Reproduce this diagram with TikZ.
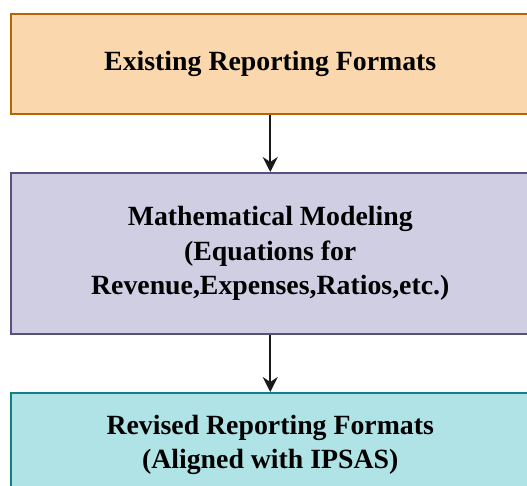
\documentclass[tikz,border=0pt]{standalone}
\usepackage{fontspec}
\setmainfont{Liberation Serif}
\usetikzlibrary{arrows.meta}
\definecolor{f1}{HTML}{FAD7AC}\definecolor{s1}{HTML}{B46504}
\definecolor{f2}{HTML}{D0CEE2}\definecolor{s2}{HTML}{56517E}
\definecolor{f3}{HTML}{B0E3E6}\definecolor{s3}{HTML}{0E8088}
\tikzset{
  box/.style={draw, line width=2pt, minimum width=519.5pt, inner sep=0pt,
    align=center, font=\fontsize{27.8}{34.5}\selectfont\bfseries},
  conn/.style={-{Stealth[length=15pt,width=15pt,inset=5pt]}, line width=2pt, draw=black!90}
}
\begin{document}
\begin{tikzpicture}[x=1pt,y=1pt]
\useasboundingbox (0,0) rectangle (527,485);
\clip (0,0) rectangle (527,485);
\node[box, fill=f1, draw=s1, minimum height=100pt] (a) at (270.25,421) {Existing Reporting Formats};
\node[box, fill=f2, draw=s2, minimum height=161pt] (b) at (270.25,231.5) {Mathematical Modeling\\(Equations for\\Revenue,Expenses,Ratios,etc.)};
\node[box, fill=f3, draw=s3, minimum height=104pt] (c) at (270.25,40) {Revised Reporting Formats\\(Aligned with IPSAS)};
\draw[conn] (a.south) -- (b.north);
\draw[conn] (b.south) -- (c.north);
\end{tikzpicture}
\end{document}
